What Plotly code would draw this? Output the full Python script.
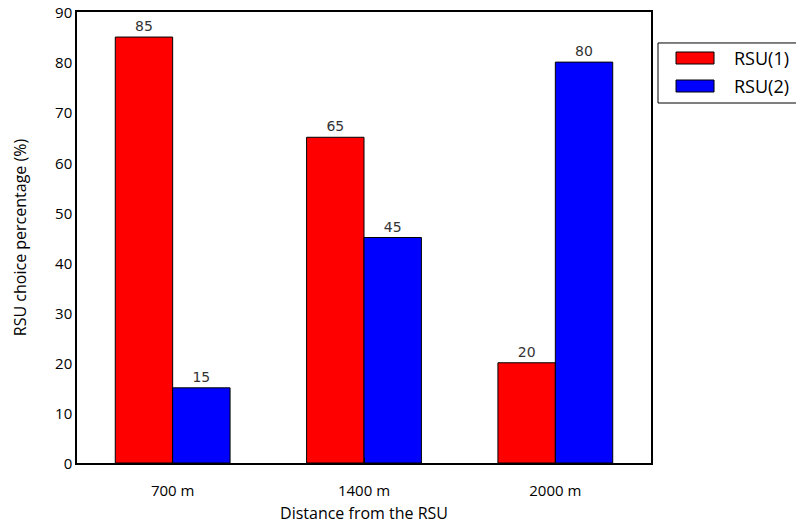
import plotly.graph_objects as go

categories = ["700 m", "1400 m", "2000 m"]
series_names = ["RSU(1)", "RSU(2)"]
series_colors = ["#ff0000", "#0000ff"]
rsu1 = [85, 65, 20]
rsu2 = [15, 45, 80]
y_ticks = [0, 10, 20, 30, 40, 50, 60, 70, 80, 90]

fig = go.Figure()
for name, vals, col in zip(series_names, [rsu1, rsu2], series_colors):
    fig.add_trace(go.Bar(
        x=categories, y=vals, name=name,
        marker=dict(color=col, line=dict(color="black", width=1)),
        text=[str(v) for v in vals], textposition="outside",
        textfont=dict(family="DejaVu Sans", size=14, color="#333333"),
        cliponaxis=False, showlegend=False,
    ))

# Legend drawn as a boxed key outside the plot frame (matplotlib style)
fig.add_shape(type="rect", xref="paper", yref="paper",
              x0=1.0122, x1=1.30, y0=0.7982, y1=0.9313,
              line=dict(color="black", width=1), fillcolor="white", layer="above")
sw_y = [(0.8847, 0.9113), (0.8226, 0.8492)]
txt_y = [0.898, 0.836]
for name, col, (y0, y1), ty in zip(series_names, series_colors, sw_y, txt_y):
    fig.add_shape(type="rect", xref="paper", yref="paper",
                  x0=1.0436, x1=1.1098, y0=y0, y1=y1,
                  line=dict(color="black", width=1), fillcolor=col, layer="above")
    fig.add_annotation(xref="paper", yref="paper", x=1.1411, y=ty,
                       xanchor="left", yanchor="middle", showarrow=False,
                       text=name, font=dict(family="Open Sans", size=18, color="black"))

fig.update_layout(
    width=796, height=524,
    margin=dict(l=77, r=145, t=12, b=61, autoexpand=False),
    paper_bgcolor="white", plot_bgcolor="white",
    barmode="group", bargap=0.4, bargroupgap=0,
    font=dict(family="Open Sans", size=15, color="black"),
    xaxis=dict(
        range=[-0.5, 2.5], showline=True, linecolor="black", linewidth=1.5,
        mirror=True, ticks="inside", ticklen=5, tickcolor="black",
        showgrid=False, zeroline=False, automargin=False,
        tickfont=dict(family="Open Sans", size=15), ticklabelstandoff=13,
        title=dict(text="Distance from the RSU", standoff=9,
                   font=dict(family="Open Sans", size=16)),
    ),
    yaxis=dict(
        range=[0, 90], tickvals=y_ticks, showline=True, linecolor="black",
        linewidth=1.5, mirror=True, ticks="", showgrid=False, zeroline=False,
        automargin=False, ticklabeloverflow="allow", ticklabelshift=1,
        tickfont=dict(family="Open Sans", size=15),
        title=dict(text="RSU choice percentage (%)", standoff=24,
                   font=dict(family="Open Sans", size=16)),
    ),
)

fig.write_html(
    "out.html",
    config={"displayModeBar": False},
    post_script="document.body.style.margin='0';document.body.style.overflow='hidden';",
)
